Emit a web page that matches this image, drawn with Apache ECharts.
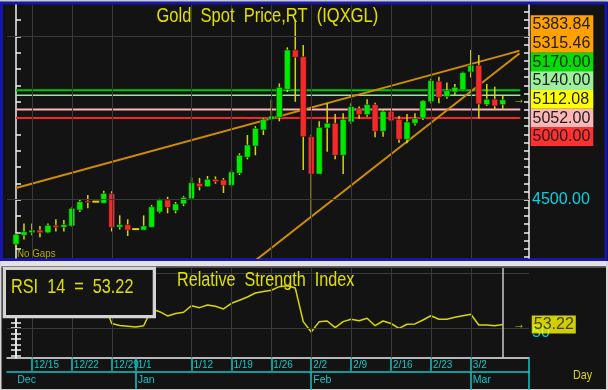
<!DOCTYPE html>
<html><head><meta charset="utf-8">
<script src="https://cdn.jsdelivr.net/npm/echarts@6/dist/echarts.min.js"></script>
<style>html,body{margin:0;padding:0;background:#131313;overflow:hidden}#c{width:608px;height:390px}</style>
</head><body><div id="c"></div>
<script>
// ---------- data ----------
const dates = ['12/11','12/12','12/15','12/16','12/17','12/18','12/19','12/22','12/23','12/24','12/25','12/26','12/29','12/30','12/31','1/1','1/2','1/5','1/6','1/7','1/8','1/9','1/12','1/13','1/14','1/15','1/16','1/19','1/20','1/21','1/22','1/23','1/26','1/27','1/28','1/29','1/30','2/2','2/3','2/4','2/5','2/6','2/9','2/10','2/11','2/12','2/13','2/16','2/17','2/18','2/19','2/20','2/23','2/24','2/25','2/26','2/27','3/2','3/3','3/4','3/5','3/6'];
const openP  = [4227,4282,4298,4314,4298,4343,4331,4339,4437,4492,4488,4478,4537,4331,4347,4320,4314,4331,4425,4498,4433,4474,4506,4600,4580,4625,4621,4588,4662,4760,4829,4927,4992,5004,5176,5417,5376,4886,4657,4939,4968,4772,4976,5057,5021,5082,4919,5041,4992,4870,4968,5000,5100,5225,5131,5160,5172,5282,5323,5082,5115,5082];
const closeP = [4288,4304,4314,4298,4343,4331,4347,4447,4488,4484,4488,4539,4331,4347,4314,4320,4339,4457,4498,4453,4474,4514,4604,4580,4625,4610,4588,4670,4772,4835,4937,4992,5012,5188,5417,5372,4886,4657,4943,4968,4772,4992,5070,5021,5082,4919,5041,4984,4870,4976,4996,5106,5229,5127,5168,5188,5278,5323,5086,5115,5074,5112.08];
const lowP   = [4206,4257,4282,4270,4294,4306,4306,4335,4425,4447,4488,4478,4306,4318,4278,4320,4314,4331,4417,4417,4417,4461,4498,4557,4578,4598,4541,4580,4651,4747,4772,4896,4992,4980,5160,5100,4682,4396,4657,4794,4747,4657,4963,4996,5008,4882,4886,4980,4849,4845,4955,4988,5090,5090,5118,5139,5168,5249,4998,5074,5049,5057];
const highP  = [4295,4355,4355,4339,4355,4380,4376,4453,4504,4529,4488,4555,4551,4404,4380,4320,4404,4468,4506,4518,4486,4523,4637,4633,4645,4643,4633,4682,4784,4896,4951,5000,5112,5212,5433,5600,5447,4900,4980,5090,5025,5029,5090,5070,5115,5094,5053,5053,5012,5025,5029,5110,5241,5253,5217,5208,5284,5417,5386,5208,5192,5135];
const rsi = [62,65,66,65,67,66,67,71,73,72,72,73,54.1,52.3,51.6,50.9,52.1,67.4,64.9,61,63.3,64.4,70.4,68.6,71,69.8,67.4,72.6,75.3,78.3,82,83.4,84.5,87.8,88.7,86.6,55.8,46.3,55.8,56.4,50.3,55.8,58,56.7,58.9,52.1,56.4,54.1,49.7,53.4,53.7,57.3,61.2,58,58,59.8,61.2,62.5,52.7,52.7,52,53.22];
const upperTrend = [[0,4572],[61,5383.84],[63.1,5411.8]];
const lowerTrend = [[29,4089.5],[61,5315.46],[63.1,5395.9]];
const levels = [5170, 5140, 5052, 5000];
const levelColors = ['#00c800', '#98e898', '#ffb4b4', '#ff2020'];
const levelWidths = [2, 1.5, 2, 2];
const weekTickIdx = [2,7,12,15,22,27,32,37,42,47,52,57];
const weekLabels = ['12/15','12/22','12/29','1/1','1/12','1/19','1/26','2/2','2/9','2/16','2/23','3/2'];
const monthTickIdx = [15,37,57];
const monthLabelIdx = [-0.1,15,37,57];
const monthLabels = ['Dec','Jan','Feb','Mar'];
const vGridIdx = [2,7,12,22,27,32,37,42,47,52,57];
const priceGridVals = [4500, 5500];
const priceTicksLeft = [4200,4300,4400,4500,4600,4700,4800,4900,5000,5100,5200,5300,5400,5500,5600];
const priceTicksRight = [4150,4200,4250,4300,4350,4400,4450,4500,4550,4600,4650,4700,4750,4800,4850,4900,4950,5000,5050,5100,5150,5200,5250,5300,5350,5400,5450,5500,5550,5600,5650];
const priceAxisLabels = [4500];
const rsiTicks = [25,30,35,40,45,50,55,60,65,70,75,80,85,90,95,100];
const rsiGridVals = [50, 100];
const rsiAxisLabels = [50];
const rightLabels = ['5383.84','5315.46','5170.00','5140.00','5112.08','5052.00','5000.00'];
const rightColors = ['#ffa200','#ffa200','#00e000','#9cf09c','#ffff00','#ffb6b6','#ff3030'];
const lastIdx = 61;
const lastPrice = 5112.08;
const lastRsi = 53.22;

// ---------- chart ----------
const XMIN = -1.128, XMAX = 64.29;
const PMIN = 4143.0, PMAX = 5692.3;
const RMIN = 22.85, RMAX = 104.84;
const FONT = '"Liberation Sans", Arial, sans-serif';
const CYAN = '#10c8c8';
const YEL = '#e0e000';

const candleData = dates.map((d, i) => [i, openP[i], closeP[i], lowP[i], highP[i]]);

function renderCandle(params, api) {
  const x = api.value(0), o = api.value(1), c = api.value(2), l = api.value(3), h = api.value(4);
  const po = api.coord([x, o]), pc = api.coord([x, c]), pl = api.coord([x, l]), ph = api.coord([x, h]);
  const w = 6;
  const ch = [];
  if (h !== l) ch.push({type: 'line', shape: {x1: po[0], y1: pl[1], x2: po[0], y2: ph[1]}, style: {stroke: '#d8d800', lineWidth: 1.5}});
  if (o === c) {
    ch.push({type: 'line', shape: {x1: po[0] - 3.5, y1: po[1], x2: po[0] + 3.5, y2: po[1]}, style: {stroke: '#d8d800', lineWidth: 2}});
  } else {
    const top = Math.min(po[1], pc[1]);
    const hh = Math.max(1.5, Math.abs(po[1] - pc[1]));
    ch.push({type: 'rect', shape: {x: po[0] - w / 2, y: top, width: w, height: hh}, style: {fill: c > o ? '#00ea00' : '#f42a2a', stroke: '#101010', lineWidth: 0.5}});
  }
  return {type: 'group', children: ch};
}

const gridLineStyle = {color: '#3a3a3a', width: 1, type: 'solid'};
const series = [];
series.push({
  type: 'line', xAxisIndex: 0, yAxisIndex: 0, data: [[0, 5000]], symbol: 'none', lineStyle: {opacity: 0}, z: 1, silent: true,
  markLine: {silent: true, symbol: 'none', label: {show: false}, lineStyle: gridLineStyle, animation: false,
    data: vGridIdx.map(v => ({xAxis: v})).concat(priceGridVals.map(v => ({yAxis: v})))}
});
series.push({
  type: 'line', xAxisIndex: 1, yAxisIndex: 2, data: [[0, 50]], symbol: 'none', lineStyle: {opacity: 0}, z: 1, silent: true,
  markLine: {silent: true, symbol: 'none', label: {show: false}, lineStyle: gridLineStyle, animation: false,
    data: vGridIdx.map(v => ({xAxis: v})).concat(rsiGridVals.map(v => ({yAxis: v})))
      .concat([{xAxis: lastIdx, lineStyle: {color: '#c8c8c8', width: 1.5}}])}
});
levels.forEach((lv, k) => {
  series.push({type: 'line', xAxisIndex: 0, yAxisIndex: 0, data: [[0, lv], [63.2, lv]], symbol: 'none', z: 2, silent: true,
    lineStyle: {color: levelColors[k], width: levelWidths[k]}});
});
[upperTrend, lowerTrend].forEach(t => {
  series.push({type: 'line', xAxisIndex: 0, yAxisIndex: 0, data: t, symbol: 'none', z: 2, silent: true, clip: true,
    lineStyle: {color: '#d08c00', width: 2}});
});
series.push({type: 'custom', xAxisIndex: 0, yAxisIndex: 0, renderItem: renderCandle, data: candleData, z: 3, clip: true,
  encode: {x: 0, y: [1, 2, 3, 4]}, silent: true});
series.push({type: 'line', xAxisIndex: 1, yAxisIndex: 2, data: rsi.map((v, i) => [i, v]), symbol: 'none', z: 3, silent: true,
  lineStyle: {color: '#d8d800', width: 1.5}});
series.push({type: 'scatter', xAxisIndex: 0, yAxisIndex: 0, data: [[63.07, lastPrice]], symbolSize: 0, z: 4, silent: true,
  label: {show: true, position: 'inside', formatter: '\u2192', color: '#e8e800', fontSize: 12, fontFamily: FONT}});
series.push({type: 'scatter', xAxisIndex: 1, yAxisIndex: 2, data: [[63.07, lastRsi]], symbolSize: 0, z: 4, silent: true,
  label: {show: true, position: 'inside', formatter: '\u2192', color: '#e8e800', fontSize: 12, fontFamily: FONT}});
series.push({type: 'scatter', xAxisIndex: 1, yAxisIndex: 2, data: [[lastIdx, lastRsi]], symbolSize: 0, z: 5, silent: true,
  label: {show: true, position: 'right', distance: 29, formatter: lastRsi.toFixed(2), color: '#202020', fontSize: 16,
    fontFamily: FONT, backgroundColor: '#ffff00', padding: [1, 2, 1, 2], lineHeight: 16}});

const graphic = [];
// frame decorations
graphic.push({type: 'rect', z: 0, shape: {x: 0, y: 0, width: 608, height: 2}, style: {fill: '#c8c8c8'}});
graphic.push({type: 'rect', z: 0, shape: {x: 1.5, y: 3, width: 604.5, height: 256.5}, style: {fill: 'none', stroke: '#1616aa', lineWidth: 3}});
graphic.push({type: 'rect', z: 0, shape: {x: 0, y: 261, width: 608, height: 5.5}, style: {fill: '#e2e2e2'}});
graphic.push({type: 'rect', z: 0, shape: {x: 0, y: 266.5, width: 608, height: 1.5}, style: {fill: '#505050'}});
graphic.push({type: 'rect', z: 0, shape: {x: 0, y: 261, width: 1.5, height: 129}, style: {fill: '#d8d8d8'}});
graphic.push({type: 'rect', z: 0, shape: {x: 606, y: 261, width: 2, height: 129}, style: {fill: '#d8d8d8'}});
graphic.push({type: 'rect', z: 0, shape: {x: 0, y: 389, width: 608, height: 1}, style: {fill: '#cfcfcf'}});
graphic.push({type: 'line', z: 5, shape: {x1: 529, y1: 357.7, x2: 529, y2: 390}, style: {stroke: CYAN, lineWidth: 1.5}});
// titles
function txt(x, y, s, size, color, sx, z) {
  return {type: 'text', x: x, y: y, scaleX: sx, z: z || 50,
    style: {x: 0, y: 0, text: s, font: size + 'px ' + FONT, fill: color, textAlign: 'left', textVerticalAlign: 'middle', align: 'left', verticalAlign: 'middle'}};
}
graphic.push(txt(156.5, 16.5, 'Gold  Spot  Price,RT  (IQXGL)', 21, YEL, 0.786));
graphic.push(txt(177, 280, 'Relative  Strength  Index', 20, YEL, 0.81));
graphic.push(txt(17, 253.5, 'No Gaps', 11.5, '#b0aa00', 0.85));
graphic.push(txt(573, 375, 'Day', 13, '#d8d800', 0.83));
// RSI box
graphic.push({type: 'rect', z: 60, shape: {x: 4.35, y: 268.35, width: 150, height: 48.3}, style: {fill: '#141414', stroke: '#d4d4d4', lineWidth: 3.3}});
graphic.push(txt(11, 287, 'RSI  14  =  ' + lastRsi.toFixed(2), 21, YEL, 0.774, 61));
// right panel labels
rightLabels.forEach((s, k) => {
  const y0 = 15.3 + k * 18.67;
  graphic.push({type: 'rect', z: 40, shape: {x: 530.7, y: y0, width: 62.6, height: 18.8}, style: {fill: rightColors[k]}});
  graphic.push({type: 'text', z: 41, x: 532.5, y: y0 + 9.6,
    style: {x: 0, y: 0, text: s, font: '16px ' + FONT, fill: '#202020', textVerticalAlign: 'middle', verticalAlign: 'middle'}});
});

const axW = {color: '#f0f0f0', width: 1.5};
const tickW = {color: '#f0f0f0', width: 1.5};
const option = {
  backgroundColor: '#131313',
  animation: false,
  grid: [
    {left: 7, top: 5, width: 522, height: 253, containLabel: false},
    {left: 7, top: 268, width: 522, height: 89.7, containLabel: false}
  ],
  xAxis: [
    {type: 'value', gridIndex: 0, min: XMIN, max: XMAX, show: false},
    {type: 'value', gridIndex: 1, min: XMIN, max: XMAX, axisLine: {show: true, lineStyle: axW}, axisTick: {show: false}, axisLabel: {show: false}, splitLine: {show: false}},
    {type: 'value', gridIndex: 1, min: XMIN, max: XMAX, position: 'bottom', offset: 0,
      axisLine: {show: false},
      axisTick: {show: true, customValues: weekTickIdx, length: 13, lineStyle: {color: CYAN, width: 1.5}},
      axisLabel: {show: true, customValues: weekTickIdx, formatter: v => weekLabels[weekTickIdx.indexOf(v)] || '', color: CYAN, fontSize: 10, fontFamily: FONT, align: 'left', margin: 3, padding: [0, 0, 0, 2]},
      splitLine: {show: false}},
    {type: 'value', gridIndex: 1, min: XMIN, max: XMAX, position: 'bottom', offset: 14,
      axisLine: {show: true, lineStyle: {color: CYAN, width: 1.5}},
      axisTick: {show: true, customValues: monthTickIdx, length: 19, lineStyle: {color: CYAN, width: 1.5}},
      axisLabel: {show: true, customValues: monthLabelIdx, formatter: v => monthLabels[monthLabelIdx.indexOf(v)] || '', color: CYAN, fontSize: 10.5, fontFamily: FONT, align: 'left', margin: 3, padding: [0, 0, 0, 2]},
      splitLine: {show: false}}
  ],
  yAxis: [
    {type: 'value', gridIndex: 0, position: 'left', min: PMIN, max: PMAX,
      axisLine: {show: true, lineStyle: axW}, axisTick: {show: true, inside: true, length: 5, customValues: priceTicksLeft, lineStyle: tickW},
      axisLabel: {show: false}, splitLine: {show: false}},
    {type: 'value', gridIndex: 0, position: 'right', min: PMIN, max: PMAX,
      axisLine: {show: true, lineStyle: axW}, axisTick: {show: true, inside: true, length: 5, customValues: priceTicksRight, lineStyle: tickW},
      axisLabel: {show: true, customValues: priceAxisLabels, formatter: v => v.toFixed(2), color: '#00d4e4', fontSize: 16, fontFamily: FONT, margin: 3},
      splitLine: {show: false}},
    {type: 'value', gridIndex: 1, position: 'left', min: RMIN, max: RMAX,
      axisLine: {show: true, lineStyle: axW}, axisTick: {show: true, inside: true, length: 5, customValues: rsiTicks, lineStyle: tickW},
      axisLabel: {show: false}, splitLine: {show: false}},
    {type: 'value', gridIndex: 1, position: 'right', min: RMIN, max: RMAX,
      axisLine: {show: true, lineStyle: axW}, axisTick: {show: true, inside: true, length: 5, customValues: rsiTicks, lineStyle: tickW},
      axisLabel: {show: true, customValues: rsiAxisLabels, formatter: v => String(v), color: '#00d4e4', fontSize: 16, fontFamily: FONT, margin: 3, verticalAlign: 'top', lineHeight: 10},
      splitLine: {show: false}}
  ],
  graphic: graphic,
  series: series
};
const chart = echarts.init(document.getElementById('c'), null, {renderer: 'canvas'});
chart.setOption(option);
</script></body></html>
